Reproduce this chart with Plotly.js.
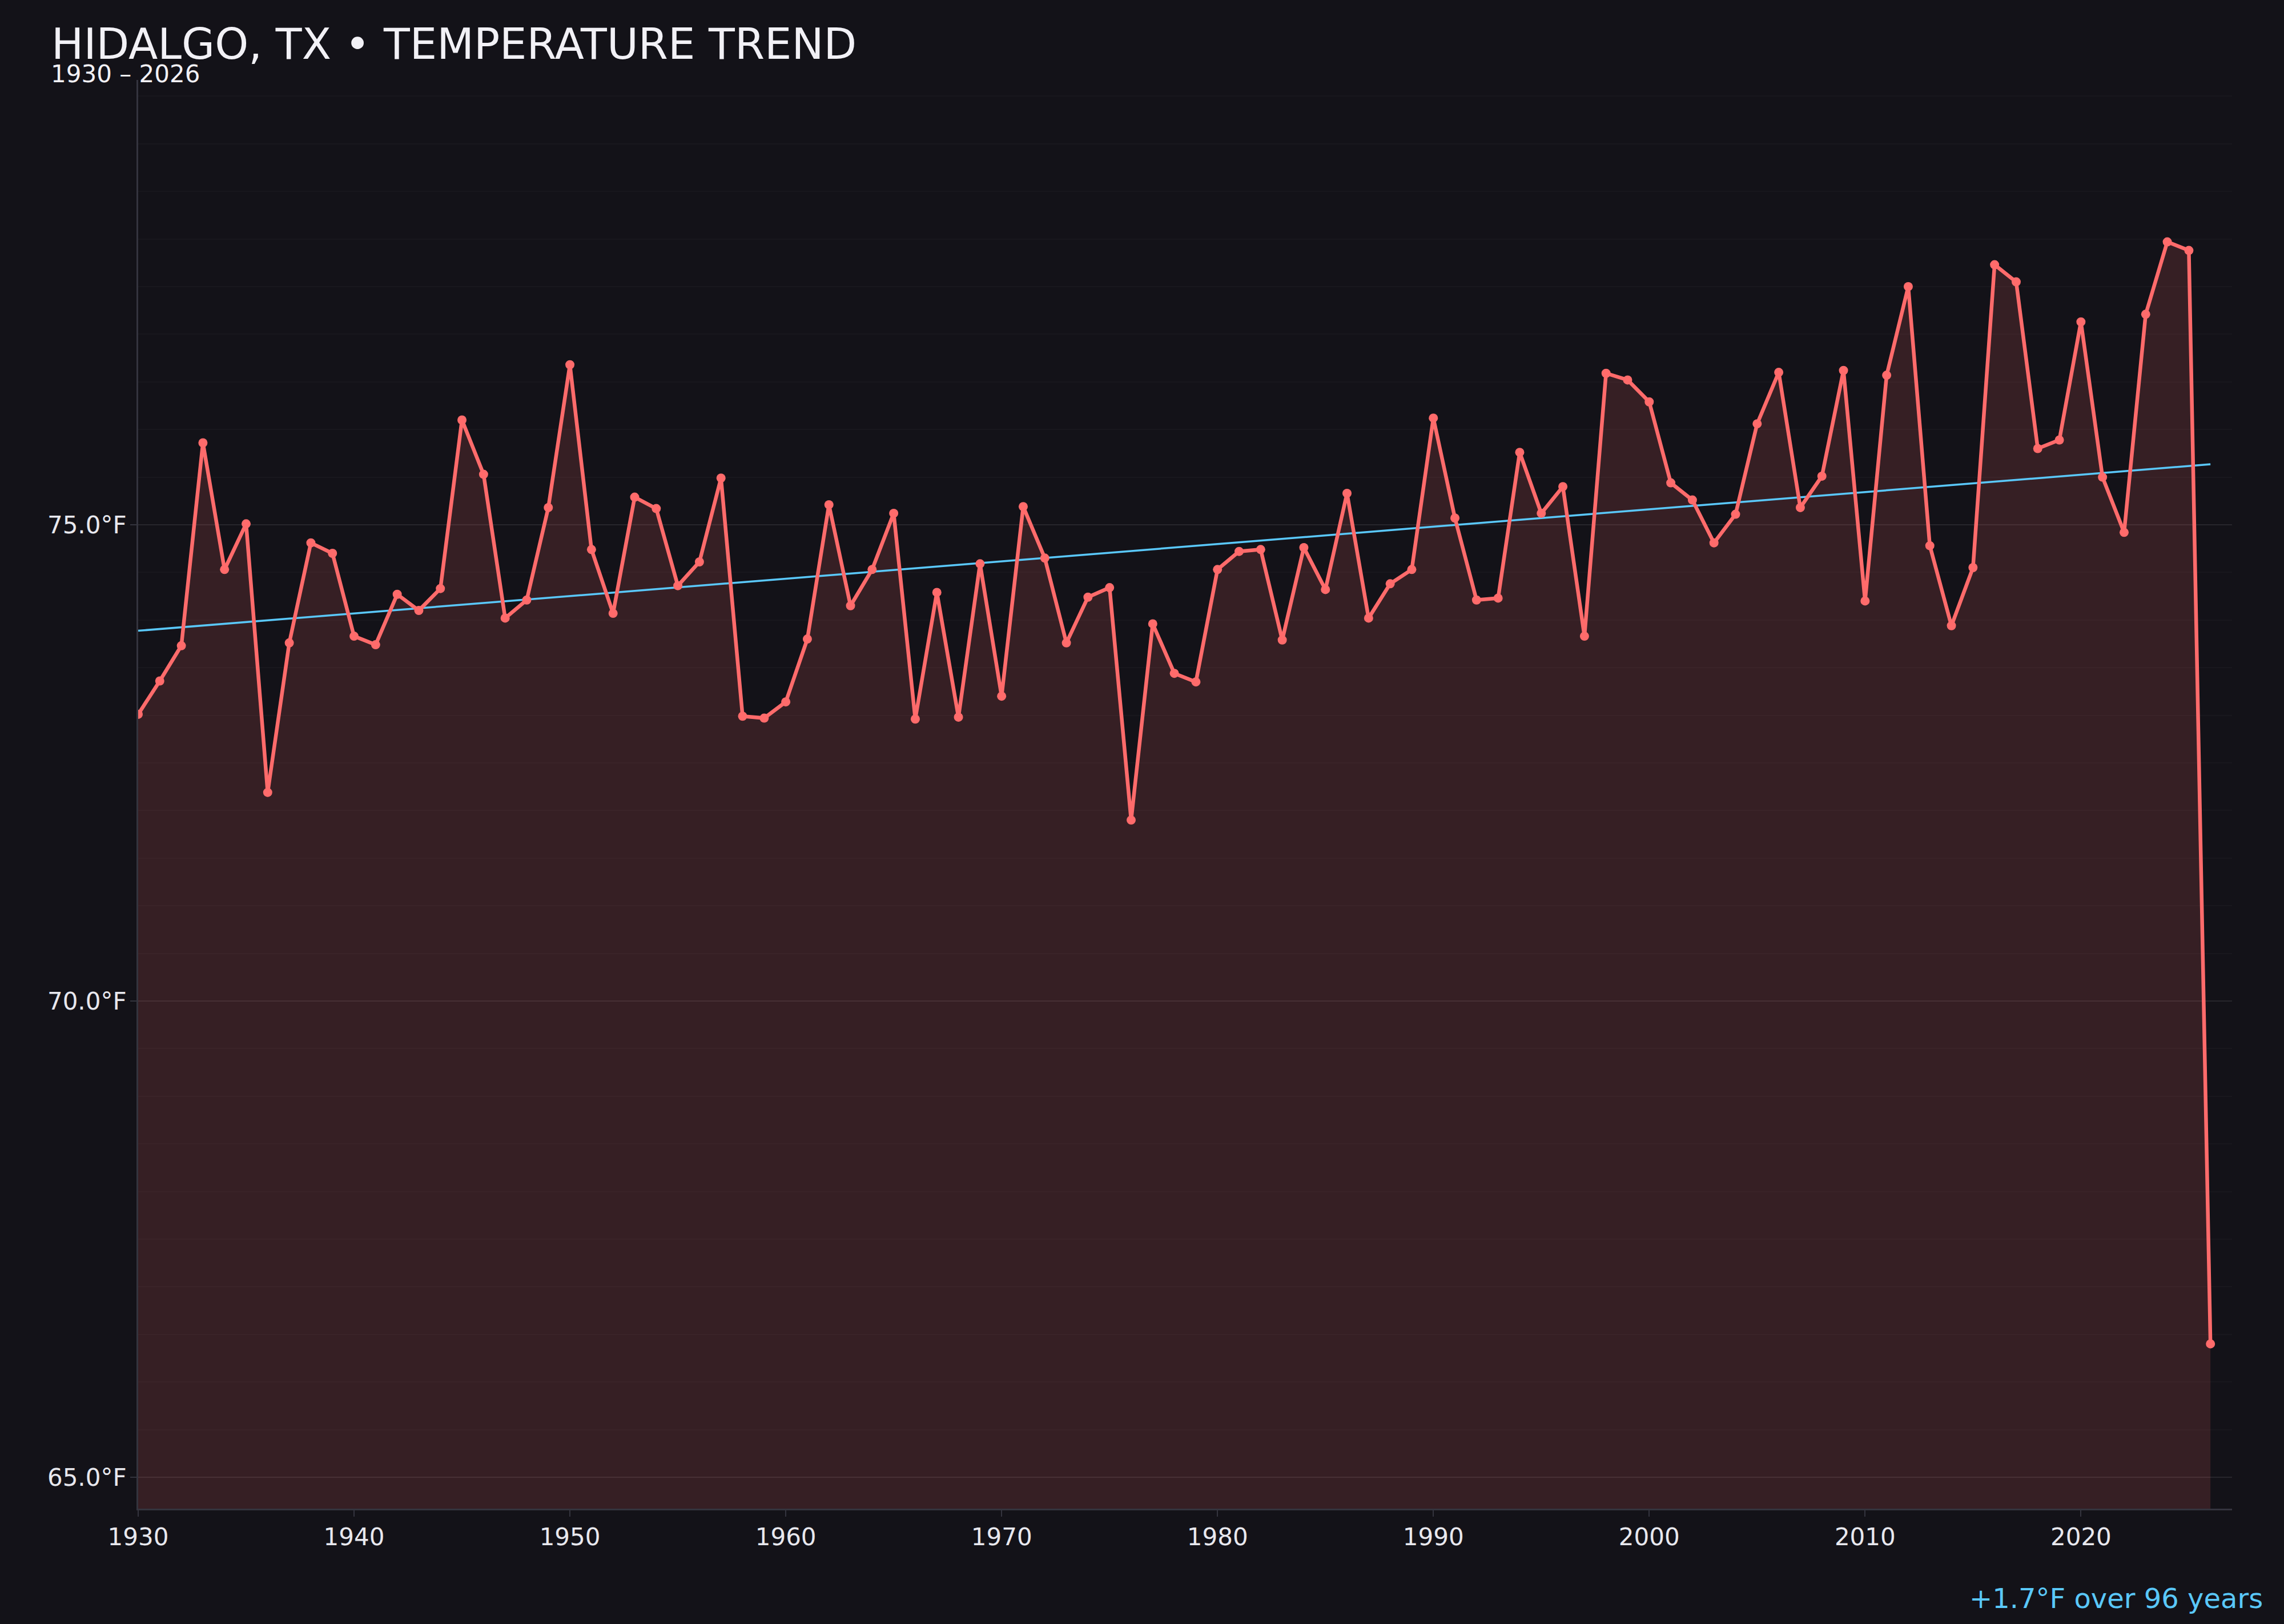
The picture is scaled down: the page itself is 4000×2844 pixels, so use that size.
<!DOCTYPE html>
<html>
<head>
<meta charset="utf-8">
<script src="https://cdn.plot.ly/plotly-3.0.1.min.js"></script>
<style>
html,body{margin:0;padding:0;background:#131218;}
#chart{width:4000px;height:2844px;}
</style>
</head>
<body>
<div id="chart"></div>
<script>
const years = [
  1930,1931,1932,1933,1934,1935,1936,1937,1938,1939,
  1940,1941,1942,1943,1944,1945,1946,1947,1948,1949,
  1950,1951,1952,1953,1954,1955,1956,1957,1958,1959,
  1960,1961,1962,1963,1964,1965,1966,1967,1968,1969,
  1970,1971,1972,1973,1974,1975,1976,1977,1978,1979,
  1980,1981,1982,1983,1984,1985,1986,1987,1988,1989,
  1990,1991,1992,1993,1994,1995,1996,1997,1998,1999,
  2000,2001,2002,2003,2004,2005,2006,2007,2008,2009,
  2010,2011,2012,2013,2014,2015,2016,2017,2018,2019,
  2020,2021,2022,2023,2024,2025,2026
];
const temps = [
  73.01,73.36,73.73,75.86,74.53,75.01,72.19,73.76,74.81,74.70,
  73.83,73.74,74.27,74.10,74.33,76.10,75.53,74.02,74.21,75.18,
  76.68,74.74,74.07,75.29,75.17,74.36,74.61,75.49,72.99,72.97,
  73.14,73.80,75.21,74.15,74.53,75.12,72.96,74.29,72.98,74.59,
  73.20,75.19,74.65,73.76,74.24,74.34,71.90,73.96,73.44,73.35,
  74.53,74.72,74.74,73.79,74.76,74.32,75.33,74.02,74.38,74.53,
  76.12,75.07,74.21,74.23,75.76,75.12,75.40,73.83,76.59,76.52,
  76.29,75.44,75.26,74.81,75.11,76.06,76.60,75.18,75.51,76.62,
  74.20,76.57,77.50,74.78,73.94,74.55,77.73,77.55,75.80,75.89,
  77.13,75.50,74.92,77.21,77.97,77.88,66.40
];
const titleText = 'HIDALGO, TX • TEMPERATURE TREND';
const subtitleText = '1930 – 2026';
const trendLabel = '+1.7°F over 96 years';
const xTickVals = [1930,1940,1950,1960,1970,1980,1990,2000,2010,2020];
const yTickVals = [65,70,75];
const yTickText = yTickVals.map(v => v.toFixed(1) + '°F');

// least-squares trend from the data
const n = years.length;
const mx = years.reduce((a,b)=>a+b,0)/n;
const my = temps.reduce((a,b)=>a+b,0)/n;
let sxy = 0, sxx = 0;
for (let i = 0; i < n; i++) { sxy += (years[i]-mx)*(temps[i]-my); sxx += (years[i]-mx)*(years[i]-mx); }
const slope = sxy/sxx;
const icpt = my - slope*mx;
const trendX = [years[0], years[n-1]];
const trendY = trendX.map(x => icpt + slope*x);

const RED = '#ff6b6b';
const BLUE = '#5ac8fa';
const BG = '#131218';
const TXT = '#e8e8ee';
const AX = '#34343e';

const traces = [
  {x: years, y: temps, type:'scatter', mode:'lines', fill:'tozeroy',
   fillcolor:'rgba(255,107,107,0.15)', line:{width:0, color:'rgba(0,0,0,0)'}, hoverinfo:'skip', showlegend:false},
  {x: trendX, y: trendY, type:'scatter', mode:'lines', line:{color:BLUE, width:3.5}, showlegend:false},
  {x: years, y: temps, type:'scatter', mode:'lines+markers',
   line:{color:RED, width:6.5}, marker:{color:RED, size:16}, showlegend:false}
];

const W = 4000, H = 2844;
const L = 242, R = 91, T = 140, B = 202;
const pw = W - L - R, ph = H - T - B;

const layout = {
  width: W, height: H,
  paper_bgcolor: BG, plot_bgcolor: BG,
  margin: {l:L, r:R, t:T, b:B, pad:0},
  font: {family:'DejaVu Sans', color:TXT, size:42},
  showlegend: false,
  title: {
    text: titleText,
    font: {family:'DejaVu Sans', size:75, color:'#f2f1f6'},
    xref:'container', x: 90/W, xanchor:'left',
    yref:'container', y: 1 - 50/H, yanchor:'top'
  },
  xaxis: {
    range:[1930, 2027], tickmode:'array', tickvals:xTickVals,
    ticks:'outside', ticklen:11, tickwidth:2, tickcolor:AX,
    showline:true, linecolor:AX, linewidth:3,
    showgrid:false, zeroline:false,
    tickfont:{family:'DejaVu Sans', size:42, color:TXT}
  },
  yaxis: {
    range:[64.67, 79.67], tickmode:'array', tickvals:yTickVals, ticktext:yTickText,
    ticks:'outside', ticklen:11, tickwidth:2, tickcolor:AX,
    showline:true, linecolor:AX, linewidth:3,
    showgrid:true, gridcolor:'rgba(255,255,255,0.065)', gridwidth:2,
    minor:{tickmode:'linear', tick0:0, dtick:0.5, showgrid:true, gridcolor:'rgba(255,255,255,0.022)', gridwidth:2, ticks:''},
    zeroline:false, ticklabelstandoff:-2,
    tickfont:{family:'DejaVu Sans', size:42, color:TXT}
  },
  annotations: [
    {text: subtitleText, xref:'paper', yref:'paper',
     x: (87 - L)/pw, xanchor:'left', y: 1 + (T - 103)/ph, yanchor:'top',
     showarrow:false, font:{family:'DejaVu Sans', size:42, color:'#f2f1f6'}},
    {text: trendLabel, xref:'paper', yref:'paper',
     x: (3965 - L)/pw, xanchor:'right', y: -(2768.5 - (T+ph))/ph, yanchor:'top',
     showarrow:false, font:{family:'DejaVu Sans', size:48, color:BLUE}}
  ]
};

Plotly.newPlot('chart', traces, layout, {displayModeBar:false, staticPlot:true});
</script>
</body>
</html>
